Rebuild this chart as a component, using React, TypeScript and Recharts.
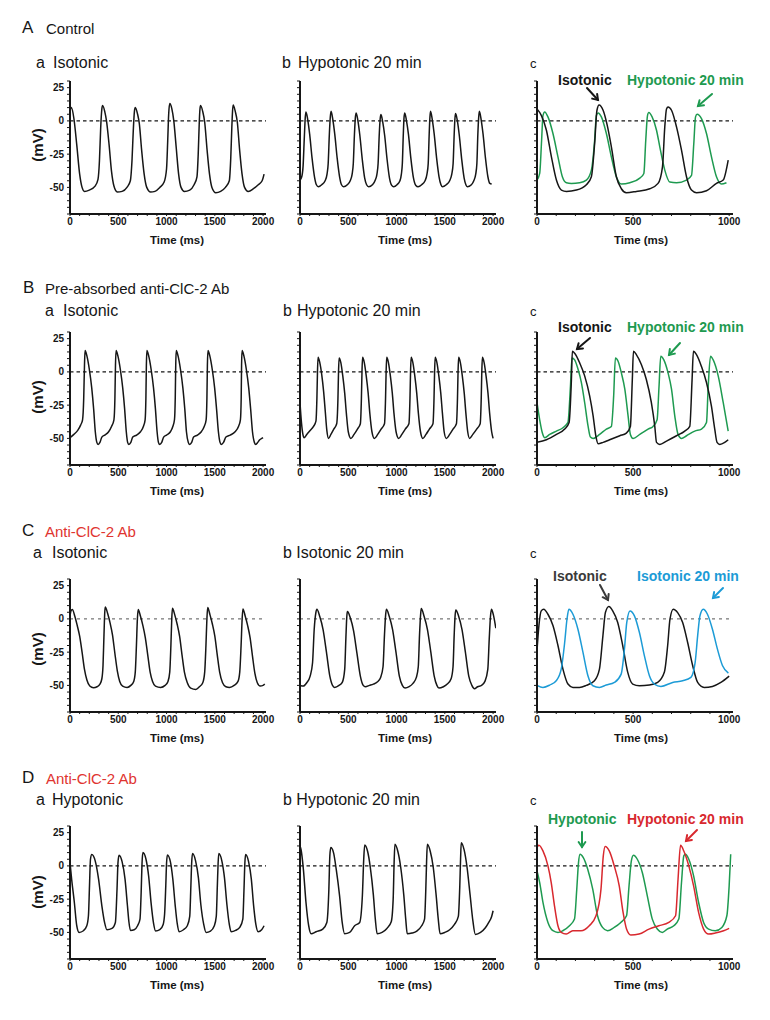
import React from "react";
import { LineChart, Line, XAxis, YAxis, ReferenceLine } from "recharts";

type Pt = [number, number];

// [time (ms), membrane potential (mV)]

// A Control
const CONTROL_ISO: Pt[] = [
  [0, 8], [14, 10], [40, 2], [70, -18], [100, -40], [125, -50], [150, -53], [200, -52], [260, -49], [290, -44], [305, -30], [318, -5], [330, 9], [338, 11.5],
  [360, 7], [378, 0], [405, -18], [430, -38], [455, -49], [490, -53.5], [540, -53], [590, -50], [625, -45], [642, -30], [655, -8], [667, 7], [676, 10],
  [700, 5], [718, -2], [742, -22], [768, -40], [795, -50], [835, -53.5], [880, -53], [930, -50], [975, -46], [1000, -36], [1012, -15], [1022, 5], [1033, 13],
  [1055, 9], [1075, 0], [1100, -20], [1125, -40], [1150, -50], [1185, -53], [1240, -52], [1285, -48], [1315, -42], [1328, -25], [1338, -3], [1345, 8], [1352, 11.5],
  [1375, 7], [1395, -1], [1420, -22], [1445, -40], [1470, -50], [1510, -54], [1560, -53], [1610, -50], [1650, -45], [1665, -28], [1676, -5], [1684, 8], [1690, 12],
  [1712, 7], [1733, -1], [1757, -22], [1782, -40], [1808, -50], [1845, -53], [1900, -51], [1950, -48], [1990, -45], [2010, -40],
];
const CONTROL_HYPO20: Pt[] = [
  [0, -44.5], [18, -42], [32, -34], [45, -12], [55, 3], [62, 6.75],
  [80, 1], [100, -10], [125, -28], [150, -42], [170, -48], [190, -49.5], [225, -48], [260, -45], [280, -40], [292, -32], [304, -10], [314, 3], [322, 7.25],
  [340, 1], [360, -10], [385, -28], [410, -42], [430, -48], [451, -49.5], [490, -48], [520, -45], [540, -40], [552, -32], [564, -10], [574, 3], [582, 6],
  [600, 0], [620, -11], [645, -29], [670, -43], [690, -48], [711, -49.5], [750, -48], [780, -44.5], [797, -40], [809, -32], [821, -10], [831, 2], [839, 4.75],
  [857, -1], [877, -11], [902, -29], [927, -43], [950, -48.5], [970, -49.5], [1005, -48], [1035, -45], [1050, -40], [1060, -32], [1070, -10], [1078, 3], [1085, 6],
  [1103, 0], [1123, -10], [1148, -28], [1173, -42], [1200, -48.5], [1223, -49.5], [1260, -48], [1295, -45], [1315, -40], [1328, -32], [1338, -10], [1346, 3], [1352, 7.25],
  [1370, 1], [1390, -10], [1415, -28], [1440, -42], [1460, -48], [1473, -49.5], [1515, -48], [1550, -45], [1572, -40], [1586, -32], [1597, -10], [1605, 2], [1612, 5.5],
  [1630, 0], [1650, -11], [1675, -29], [1700, -43], [1718, -48], [1733, -49.5], [1775, -48], [1800, -45], [1820, -40], [1832, -32], [1842, -10], [1851, 3], [1858, 7.25],
  [1876, 1], [1896, -10], [1921, -28], [1946, -42], [1966, -47], [1985, -47.5],
];
const CONTROL_ISO_1S: Pt[] = [
  [0, 9], [23, 4], [49, -7], [75, -27], [101, -44.5], [127, -52], [153, -53], [205, -52], [257, -48], [283, -42], [300, -17], [312, 8], [323, 12],
  [344, 8], [365, -3], [387, -19.5], [413, -42], [439, -51], [465, -54], [517, -53], [587, -51], [630, -47], [653, -34.5], [665, -4.5], [674, 9], [682, 10.5],
  [700, 8], [726, -4.5], [752, -22], [778, -42], [804, -52], [830, -54], [882, -52.5], [934, -47], [969, -44.5], [995, -29.5],
];
const CONTROL_HYPO20_1S: Pt[] = [
  [0, -44.5], [14, -39.5], [24, -14.5], [31, 4], [40, 6.75], [57, 3], [83, -9.5], [109, -27], [132, -42], [153, -46.5], [179, -47], [222, -46.5], [257, -44.5], [283, -37], [300, -14.5], [309, 4], [318, 6],
  [335, 3], [361, -9.5], [387, -27], [413, -42], [439, -47.5], [483, -46.5], [535, -43], [556, -39.5], [566, -14.5], [575, 4], [582, 6.25],
  [599, 3], [622, -7], [639, -19.5], [665, -37], [691, -46], [726, -46.5], [778, -44.5], [804, -41], [816, -17], [825, 3], [833, 5],
  [856, 1.75], [882, -9.5], [908, -27], [934, -42], [960, -47.5], [986, -46.5],
];

// B Pre-absorbed anti-ClC-2 Ab
const PRE_ISO: Pt[] = [
  [0, -49.5], [40, -47], [80, -44], [110, -40], [130, -36], [142, -20], [150, 5], [156, 16],
  [175, 12], [200, 2], [225, -12], [245, -28], [262, -45], [278, -53], [291, -54.5], [310, -53], [330, -49], [360, -47.5], [400, -45], [430, -41], [455, -36], [465, -20], [471, 5], [477, 16],
  [496, 12], [521, 2], [546, -12], [566, -28], [583, -45], [597, -53], [609, -54.5], [630, -53], [650, -49], [690, -47.5], [730, -45], [760, -41], [778, -36], [786, -20], [791, 5], [796, 16],
  [815, 12], [840, 2], [865, -12], [885, -28], [902, -45], [916, -53], [927, -54.5], [950, -53], [970, -49], [1000, -47.5], [1040, -45], [1065, -41], [1082, -36], [1090, -20], [1095, 5], [1100, 16],
  [1119, 12], [1144, 2], [1169, -12], [1189, -28], [1206, -45], [1225, -53], [1238, -54.5], [1260, -53], [1280, -49], [1320, -47.5], [1360, -45], [1390, -41], [1410, -36], [1418, -20], [1423, 5], [1429, 16],
  [1448, 12], [1473, 2], [1498, -12], [1518, -28], [1537, -45], [1554, -53], [1567, -54.5], [1590, -53], [1615, -49], [1660, -47.5], [1710, -45], [1745, -41], [1765, -36], [1773, -20], [1777, 5], [1782, 16],
  [1801, 12], [1826, 2], [1851, -12], [1871, -28], [1890, -45], [1910, -53], [1924, -54.5], [1945, -53], [1965, -51], [1985, -50], [2000, -49.5],
];
const PRE_HYPO20: Pt[] = [
  [0, -23], [15, -38], [30, -47], [42, -49.5], [70, -47], [105, -44], [140, -41], [165, -37], [175, -20], [181, 0], [187, 11],
  [205, 7], [225, -2], [245, -15], [262, -30], [278, -44], [295, -50], [320, -47], [350, -43], [380, -39], [393, -20], [399, 0], [405, 10.5],
  [423, 7], [443, -3], [463, -16], [480, -31], [500, -45], [527, -50], [560, -47], [595, -43], [625, -39], [636, -20], [642, 0], [648, 11],
  [666, 7], [686, -3], [706, -16], [723, -31], [745, -45], [770, -50], [805, -47], [840, -43], [875, -39], [886, -20], [892, 0], [898, 11],
  [916, 7], [936, -3], [956, -16], [973, -31], [995, -45], [1022, -50], [1055, -47], [1090, -43], [1128, -39], [1139, -20], [1145, 0], [1151, 11],
  [1169, 7], [1189, -3], [1209, -16], [1226, -31], [1248, -45], [1272, -50], [1305, -47], [1340, -43], [1377, -39], [1388, -20], [1394, 0], [1400, 11],
  [1418, 7], [1438, -3], [1458, -16], [1475, -31], [1493, -45], [1515, -50], [1550, -47], [1585, -43], [1620, -39], [1631, -20], [1637, 0], [1643, 11],
  [1661, 7], [1681, -3], [1701, -16], [1718, -31], [1737, -45], [1757, -50], [1790, -47], [1830, -43], [1866, -39], [1877, -20], [1883, 0], [1889, 11],
  [1907, 7], [1927, -3], [1947, -16], [1964, -31], [1985, -45], [2000, -50],
];
const PRE_ISO_1S: Pt[] = [
  [0, -53], [49, -51], [101, -47], [144, -43], [167, -38], [179, -6], [184, 15.5], [196, 14], [222, 6.75], [248, -3], [274, -18], [292, -33], [306, -48], [318, -54],
  [344, -53], [378, -51], [431, -48], [465, -46], [486, -41], [496, -6], [502, 15.5], [517, 13], [543, 5.5], [569, -5.75], [595, -23], [613, -41], [622, -53], [639, -54.5],
  [674, -52], [726, -48], [769, -44.5], [795, -41], [807, -6], [814, 15.5], [830, 13], [856, 4], [882, -8], [908, -26], [925, -43], [937, -53], [951, -54.5], [977, -53], [995, -51],
];
const PRE_HYPO20_1S: Pt[] = [
  [0, -23], [14, -36], [28, -46], [40, -49.5], [66, -47], [101, -44.5], [135, -42], [161, -38], [174, -11], [182, 10.5], [196, 9], [214, 1.75], [231, -8], [248, -23], [266, -41], [278, -49], [292, -50],
  [326, -47], [361, -43], [387, -41], [399, -18], [408, 10.5], [422, 8], [439, -0.75], [457, -13], [474, -33], [486, -47], [500, -50],
  [535, -47], [578, -43], [604, -41], [625, -36], [635, -11], [644, 11.75], [660, 9], [682, -0.75], [700, -13], [717, -33], [734, -47], [752, -50],
  [778, -48], [821, -44.5], [856, -43], [882, -38], [891, -11], [903, 11.75], [917, 9], [943, -3], [969, -23], [995, -44.5],
];

// C Anti-ClC-2 Ab, isotonic
const AB_ISO: Pt[] = [
  [0, 2], [10, 6], [24, 7], [50, 2], [75, -5], [100, -13], [125, -25], [150, -38], [175, -46], [205, -50.5], [243, -51.75], [280, -51], [310, -49], [330, -45], [342, -35], [352, -12], [360, 5], [365, 9],
  [390, 4], [415, -3], [440, -12], [465, -26], [490, -39], [515, -47], [545, -50.5], [591, -51.5], [630, -50], [660, -47], [676, -40], [688, -20], [698, 0], [706, 7],
  [730, 2], [755, -5], [780, -14], [805, -27], [830, -40], [855, -47], [885, -50.5], [939, -51.5], [985, -50], [1015, -47], [1033, -40], [1045, -20], [1054, 0], [1061, 8],
  [1085, 3], [1110, -4], [1135, -13], [1160, -27], [1185, -40], [1215, -48], [1250, -52], [1304, -53], [1340, -51], [1375, -48], [1395, -40], [1408, -20], [1418, 0], [1426, 8.5],
  [1450, 3], [1475, -4], [1500, -13], [1525, -27], [1550, -40], [1580, -48], [1615, -51], [1652, -51.5], [1700, -50], [1740, -47], [1758, -40], [1772, -20], [1783, 0], [1791, 7.5],
  [1815, 2], [1840, -5], [1865, -14], [1890, -28], [1915, -41], [1940, -48], [1970, -50.5], [2000, -50], [2017, -49],
];
const AB_ISO20: Pt[] = [
  [0, -50], [35, -50.5], [70, -48], [105, -43], [130, -33], [147, -8], [165, 5], [175, 7.25],
  [204, 2], [239, -8], [274, -25], [309, -43], [337, -50], [358, -51.5], [404, -50], [439, -47.5], [463, -38], [475, -15], [485, 2], [491, 5.5],
  [520, 1], [555, -9], [590, -26], [625, -43], [655, -50], [677, -51], [720, -50], [760, -49], [800, -47.5], [835, -44], [860, -36], [875, -12], [887, 3], [895, 7.25],
  [924, 2], [959, -8], [994, -25], [1029, -43], [1060, -50], [1088, -52], [1130, -51], [1170, -48.5], [1205, -44], [1225, -36], [1238, -12], [1249, 3], [1256, 7.75],
  [1285, 2], [1320, -8], [1355, -25], [1390, -43], [1418, -50], [1439, -52], [1485, -51], [1525, -49], [1565, -45], [1585, -36], [1597, -12], [1607, 3], [1614, 6.75],
  [1643, 2], [1678, -8], [1713, -25], [1748, -43], [1780, -50], [1807, -52.5], [1840, -51], [1880, -50], [1915, -47], [1945, -38], [1960, -15], [1973, 2], [1983, 7.25],
  [2003, 3], [2028, -7],
];
const AB_ISO_1S: Pt[] = [
  [0, -24], [10, -5], [22, 6], [35, 7.25], [57, 3.5], [83, -5], [109, -20], [135, -37.75], [161, -49], [187, -51.5], [221, -51.5], [256, -50], [299, -46.5], [325, -37.75], [343, -12.75], [356, 4.75], [374, 9.25],
  [394, 6], [420, -2.75], [446, -20], [472, -40], [498, -49], [533, -50.25], [585, -49.75], [628, -47.75], [663, -40], [680, -20], [692, -0.25], [709, 7.25],
  [732, 4.75], [758, -2.75], [784, -17.75], [810, -35], [836, -47.75], [870, -51.5], [913, -50.75], [957, -47.75], [1000, -43],
];
const AB_ISO20_1S: Pt[] = [
  [0, -50], [31, -51.5], [66, -49.75], [100, -46.5], [126, -37.75], [144, -17.75], [156, -0.25], [166, 7.25], [187, 3.5], [213, -7.75], [239, -25], [265, -42.75], [291, -50.25], [325, -51.5],
  [360, -49.75], [403, -47.75], [438, -41.5], [455, -22.75], [467, -2.75], [484, 6], [507, 2.25], [533, -10.25], [559, -27.75], [585, -42.75], [611, -49], [645, -50.75],
  [706, -47.75], [758, -46.5], [801, -44], [823, -32.75], [836, -12.75], [848, 2.25], [865, 7.25], [887, 3.5], [913, -7.75], [939, -22.75], [965, -35], [996, -40.75],
];

// D Anti-ClC-2 Ab, hypotonic
const AB_HYPO: Pt[] = [
  [0, 2.5], [17, -10], [45, -27.5], [70, -45], [94, -50], [139, -48.75], [174, -45], [191, -37.5], [202, -15], [212, 5], [226, 8.5],
  [261, 3.75], [296, -10], [330, -30], [358, -42.5], [383, -48], [435, -47], [470, -42.5], [487, -17.5], [497, 2.5], [508, 8],
  [540, 3], [570, -10], [595, -30], [610, -42], [626, -48.5], [665, -48], [700, -45], [725, -40], [737, -20], [746, 2], [755, 10],
  [787, 5], [815, -8], [840, -28], [865, -43], [887, -49], [930, -48], [965, -44], [980, -36], [992, -15], [1000, 2], [1009, 8.25],
  [1040, 3], [1065, -10], [1090, -30], [1110, -43], [1130, -49.5], [1175, -48], [1215, -45], [1240, -38], [1252, -15], [1260, 2], [1269, 9.25],
  [1300, 4], [1330, -9], [1355, -29], [1385, -44], [1409, -50], [1455, -49], [1495, -45], [1515, -38], [1526, -15], [1534, 2], [1541, 9.25],
  [1572, 4], [1600, -9], [1625, -29], [1650, -44], [1669, -49.5], [1715, -48.5], [1760, -46], [1790, -40], [1802, -18], [1811, 2], [1819, 8.5],
  [1850, 3], [1878, -10], [1902, -30], [1925, -44], [1948, -49.5], [1985, -48], [2010, -45],
];
const AB_HYPO20: Pt[] = [
  [0, 15], [10, 12.5], [35, -2.5], [62, -27.5], [90, -45], [115, -51], [167, -49.5], [236, -47.5], [278, -42.5], [299, -17.5], [309, 7.5], [319, 13.75],
  [347, 10], [375, -2.5], [410, -22.5], [437, -42.5], [462, -51], [514, -50], [566, -45], [618, -42.5], [646, -22.5], [660, 5], [670, 15.75],
  [700, 11], [728, -1], [760, -22], [780, -40], [799, -51], [850, -50], [900, -47], [945, -42], [965, -25], [975, 3], [983, 16.25],
  [1013, 11], [1043, -1], [1075, -22], [1095, -40], [1111, -51], [1160, -50.5], [1210, -49], [1260, -45], [1290, -40], [1302, -20], [1311, 3], [1319, 16.25],
  [1349, 11], [1380, -1], [1410, -22], [1432, -40], [1451, -51], [1500, -50], [1550, -48], [1600, -44], [1640, -38], [1655, -15], [1663, 5], [1670, 17.5],
  [1700, 12], [1730, -1], [1762, -22], [1790, -41], [1816, -51.5], [1870, -50], [1920, -46.5], [1955, -42.5], [1985, -38], [2000, -33.75],
];
const AB_HYPO_1S: Pt[] = [
  [0, -3.75], [14, -12.5], [31, -27.5], [57, -42.5], [83, -48.75], [109, -50], [134, -48.75], [169, -45], [195, -40], [207, -17.5], [216, 2.5], [224, 8.75],
  [241, 6.25], [264, -2.5], [290, -17.5], [315, -37.5], [341, -46.25], [367, -48.75], [402, -46.25], [436, -42.5], [466, -37.5], [479, -15], [491, 3.75], [502, 8],
  [522, 5], [548, -5], [574, -22.5], [600, -40], [626, -47.5], [652, -50], [678, -47.5], [712, -45], [738, -40], [752, -12.5], [764, 7.5], [772, 8.75],
  [790, 5], [815, -7.5], [841, -27.5], [867, -42.5], [893, -47.5], [928, -48.75], [962, -46.25], [988, -37.5], [1000, -15], [1008, 8.75],
];
const AB_HYPO20_1S: Pt[] = [
  [0, 14], [10, 15.5], [31, 11.25], [57, 0], [74, -12.5], [91, -30], [109, -45], [126, -50], [152, -51.25], [186, -48.75], [229, -48.75], [272, -45], [307, -37.5], [333, -17.5], [345, 7.5], [355, 14.5],
  [376, 11.25], [402, 0], [428, -15], [448, -35], [466, -47.5], [488, -52], [531, -51.25], [583, -47.5], [634, -45], [686, -42.5], [721, -37.5], [734, -10], [747, 15.5],
  [764, 11.25], [790, 0], [815, -15], [841, -35], [867, -47.5], [893, -51.25], [928, -50.5], [971, -48.75], [1000, -47],
];

// axes
const X_TICKS_2S = [0, 100, 200, 300, 400, 500, 600, 700, 800, 900, 1000, 1100, 1200, 1300, 1400, 1500, 1600, 1700, 1800, 1900, 2000];
const X_LABELS_2S = [0, 500, 1000, 1500, 2000];
const X_TICKS_1S = [0, 100, 200, 300, 400, 500, 600, 700, 800, 900, 1000];
const X_LABELS_1S = [0, 500, 1000];
const Y_TICKS = [-70, -65, -60, -55, -50, -45, -40, -35, -30, -25, -20, -15, -10, -5, 0, 5, 10, 15, 20, 25, 30];
const Y_LABELS = [25, 0, -25, -50];

const FONT = '"Liberation Sans", Arial, Helvetica, sans-serif';
const INK = "#161616";
const GREEN = "#1e9a50";
const BLUE = "#1c9bd6";
const RED = "#d8282e";
const TITLE_RED = "#e0342f";

// layout (px)
const ROW_ZERO = [121, 372, 619, 866];
const COL_LEFT = [70, 300, 537];
const PLOT_W = 196;
const PLOT_H = 133;
const Y_AXIS_W = 44;
const X_AXIS_H = 22;
const M_TOP = 4;
const M_RIGHT = 16;

interface Trace {
  data: Pt[];
  color: string;
}

interface PanelDef {
  row: number;
  col: number;
  traces: Trace[];
}

const PANELS: PanelDef[] = [
  { row: 0, col: 0, traces: [{ data: CONTROL_ISO, color: INK }] },
  { row: 0, col: 1, traces: [{ data: CONTROL_HYPO20, color: INK }] },
  { row: 0, col: 2, traces: [{ data: CONTROL_HYPO20_1S, color: GREEN }, { data: CONTROL_ISO_1S, color: INK }] },
  { row: 1, col: 0, traces: [{ data: PRE_ISO, color: INK }] },
  { row: 1, col: 1, traces: [{ data: PRE_HYPO20, color: INK }] },
  { row: 1, col: 2, traces: [{ data: PRE_HYPO20_1S, color: GREEN }, { data: PRE_ISO_1S, color: INK }] },
  { row: 2, col: 0, traces: [{ data: AB_ISO, color: INK }] },
  { row: 2, col: 1, traces: [{ data: AB_ISO20, color: INK }] },
  { row: 2, col: 2, traces: [{ data: AB_ISO_1S, color: INK }, { data: AB_ISO20_1S, color: BLUE }] },
  { row: 3, col: 0, traces: [{ data: AB_HYPO, color: INK }] },
  { row: 3, col: 1, traces: [{ data: AB_HYPO20, color: INK }] },
  { row: 3, col: 2, traces: [{ data: AB_HYPO_1S, color: GREEN }, { data: AB_HYPO20_1S, color: RED }] },
];

const toRows = (pts: Pt[]) => pts.map(([t, v]) => ({ t, v }));

function Panel({ row, col, traces }: PanelDef) {
  const long = col < 2;
  const xTicks = long ? X_TICKS_2S : X_TICKS_1S;
  const xLabels = long ? X_LABELS_2S : X_LABELS_1S;
  const xMax = long ? 2030 : 1020;
  const plotTop = ROW_ZERO[row] - 40;
  const faint = row === 2;
  return (
    <div style={{ position: "absolute", left: COL_LEFT[col] - Y_AXIS_W, top: plotTop - M_TOP }}>
      <LineChart
        width={Y_AXIS_W + PLOT_W + M_RIGHT}
        height={M_TOP + PLOT_H + X_AXIS_H}
        margin={{ top: M_TOP, right: M_RIGHT, bottom: 0, left: 0 }}
      >
        <XAxis
          type="number"
          dataKey="t"
          domain={[0, xMax]}
          allowDataOverflow
          ticks={xTicks}
          interval={0}
          height={X_AXIS_H}
          tickSize={2}
          tickMargin={2}
          tickFormatter={(v: number) => (xLabels.includes(v) ? String(v) : "")}
          axisLine={{ stroke: INK, strokeWidth: 2 }}
          tickLine={{ stroke: INK, strokeWidth: 1 }}
          tick={{ fontSize: 10, fontWeight: 700, fill: INK, fontFamily: FONT }}
        />
        <YAxis
          type="number"
          domain={[-70, 30]}
          allowDataOverflow
          ticks={Y_TICKS}
          interval={0}
          width={Y_AXIS_W}
          tickSize={3}
          tickMargin={3}
          tickFormatter={(v: number) => (col === 0 && Y_LABELS.includes(v) ? String(v) : "")}
          axisLine={{ stroke: INK, strokeWidth: 2 }}
          tickLine={{ stroke: INK, strokeWidth: 1 }}
          tick={{ fontSize: 10, fontWeight: 700, fill: INK, fontFamily: FONT }}
        />
        <ReferenceLine
          y={0}
          stroke={faint ? "#555" : INK}
          strokeWidth={faint ? 1 : 1.3}
          strokeDasharray={faint ? "3 4" : "3.5 3"}
          ifOverflow="extendDomain"
        />
        {traces.map((tr, i) => (
          <Line
            key={i}
            data={toRows(tr.data)}
            dataKey="v"
            type="monotone"
            stroke={tr.color}
            strokeWidth={1.5}
            dot={false}
            activeDot={false}
            isAnimationActive={false}
          />
        ))}
      </LineChart>
    </div>
  );
}

interface TxtProps {
  x: number;
  y: number;
  size: number;
  bold?: boolean;
  color?: string;
  center?: boolean;
  children: React.ReactNode;
}

function Txt({ x, y, size, bold, color, center, children }: TxtProps) {
  return (
    <div
      style={{
        position: "absolute",
        left: x,
        top: y,
        transform: center ? "translate(-50%, -50%)" : "translateY(-50%)",
        fontSize: size,
        fontWeight: bold ? 700 : 400,
        color: color ?? INK,
        fontFamily: FONT,
        whiteSpace: "nowrap",
        lineHeight: 1,
      }}
    >
      {children}
    </div>
  );
}

function Arrow({ x1, y1, x2, y2, color }: { x1: number; y1: number; x2: number; y2: number; color: string }) {
  const a = Math.atan2(y2 - y1, x2 - x1);
  const h = 6;
  const p1 = `${x2 - h * Math.cos(a - 0.6)},${y2 - h * Math.sin(a - 0.6)}`;
  const p2 = `${x2 - h * Math.cos(a + 0.6)},${y2 - h * Math.sin(a + 0.6)}`;
  return (
    <g stroke={color} strokeWidth={2} fill="none" strokeLinecap="round">
      <line x1={x1} y1={y1} x2={x2} y2={y2} />
      <polyline points={`${p1} ${x2},${y2} ${p2}`} />
    </g>
  );
}

const SUB_Y = [63, 311, 553, 800];
const MV_DY = [24, 25, 30, 26];
const TIME_X = [177, 405, 641];
const TIME_DY = 27;

export default function App() {
  return (
    <div style={{ position: "absolute", left: 0, top: 0, width: 770, height: 1020, background: "#fff", overflow: "hidden" }}>
      {/* section headings */}
      <Txt x={22} y={27} size={17}>A</Txt>
      <Txt x={46} y={28} size={15}>Control</Txt>
      <Txt x={23} y={287} size={17}>B</Txt>
      <Txt x={45} y={288} size={15}>Pre-absorbed anti-ClC-2 Ab</Txt>
      <Txt x={22} y={530} size={17}>C</Txt>
      <Txt x={45} y={531} size={15} color={TITLE_RED}>Anti-ClC-2 Ab</Txt>
      <Txt x={22} y={777} size={17}>D</Txt>
      <Txt x={46} y={778} size={15} color={TITLE_RED}>Anti-ClC-2 Ab</Txt>

      {/* panel subtitles */}
      <Txt x={36} y={SUB_Y[0]} size={16}>a</Txt>
      <Txt x={53} y={SUB_Y[0]} size={16}>Isotonic</Txt>
      <Txt x={282} y={SUB_Y[0]} size={16}>b</Txt>
      <Txt x={298} y={SUB_Y[0]} size={16}>Hypotonic 20 min</Txt>
      <Txt x={45} y={SUB_Y[1]} size={16}>a</Txt>
      <Txt x={63} y={SUB_Y[1]} size={16}>Isotonic</Txt>
      <Txt x={283} y={SUB_Y[1]} size={16}>b</Txt>
      <Txt x={297} y={SUB_Y[1]} size={16}>Hypotonic 20 min</Txt>
      <Txt x={33} y={SUB_Y[2]} size={16}>a</Txt>
      <Txt x={52} y={SUB_Y[2]} size={16}>Isotonic</Txt>
      <Txt x={283} y={SUB_Y[2]} size={16}>b Isotonic 20 min</Txt>
      <Txt x={36} y={SUB_Y[3]} size={16}>a</Txt>
      <Txt x={52} y={SUB_Y[3]} size={16}>Hypotonic</Txt>
      <Txt x={283} y={SUB_Y[3]} size={16}>b Hypotonic 20 min</Txt>
      {SUB_Y.map((y, i) => (
        <Txt key={i} x={530} y={y} size={13}>c</Txt>
      ))}

      {/* overlay legends */}
      <Txt x={558} y={80} size={14} bold>Isotonic</Txt>
      <Txt x={627} y={80} size={14} bold color={GREEN}>Hypotonic 20 min</Txt>
      <Txt x={558} y={327} size={14} bold>Isotonic</Txt>
      <Txt x={627} y={327} size={14} bold color={GREEN}>Hypotonic 20 min</Txt>
      <Txt x={553} y={576} size={14} bold color="#3a3a3a">Isotonic</Txt>
      <Txt x={637} y={576} size={14} bold color={BLUE}>Isotonic 20 min</Txt>
      <Txt x={548} y={819} size={14} bold color={GREEN}>Hypotonic</Txt>
      <Txt x={627} y={819} size={14} bold color={RED}>Hypotonic 20 min</Txt>

      {/* axis titles */}
      {ROW_ZERO.map((z, r) => (
        <div
          key={`mv${r}`}
          style={{
            position: "absolute",
            left: 37,
            top: z + MV_DY[r],
            transform: "translate(-50%, -50%) rotate(-90deg)",
            fontSize: 15,
            fontWeight: 700,
            fontFamily: FONT,
            color: INK,
            whiteSpace: "nowrap",
            lineHeight: 1,
          }}
        >
          (mV)
        </div>
      ))}
      {ROW_ZERO.map((z, r) =>
        TIME_X.map((x, c) => (
          <Txt key={`t${r}${c}`} x={x} y={z + 93 + TIME_DY} size={11.5} bold center>
            Time (ms)
          </Txt>
        ))
      )}

      {PANELS.map((p, i) => (
        <Panel key={i} {...p} />
      ))}

      <svg width={770} height={1020} style={{ position: "absolute", left: 0, top: 0, pointerEvents: "none" }}>
        <Arrow x1={587} y1={88} x2={598} y2={100} color={INK} />
        <Arrow x1={712} y1={94} x2={698} y2={106} color={GREEN} />
        <Arrow x1={590} y1={338} x2={577} y2={349} color={INK} />
        <Arrow x1={680} y1={343} x2={669} y2={355} color={GREEN} />
        <Arrow x1={600} y1={585} x2={608} y2={600} color="#3a3a3a" />
        <Arrow x1={723} y1={588} x2={713} y2={598} color={BLUE} />
        <Arrow x1={582} y1={832} x2={582} y2={847} color={GREEN} />
        <Arrow x1={697} y1={830} x2={686} y2={841} color={RED} />
      </svg>
    </div>
  );
}
